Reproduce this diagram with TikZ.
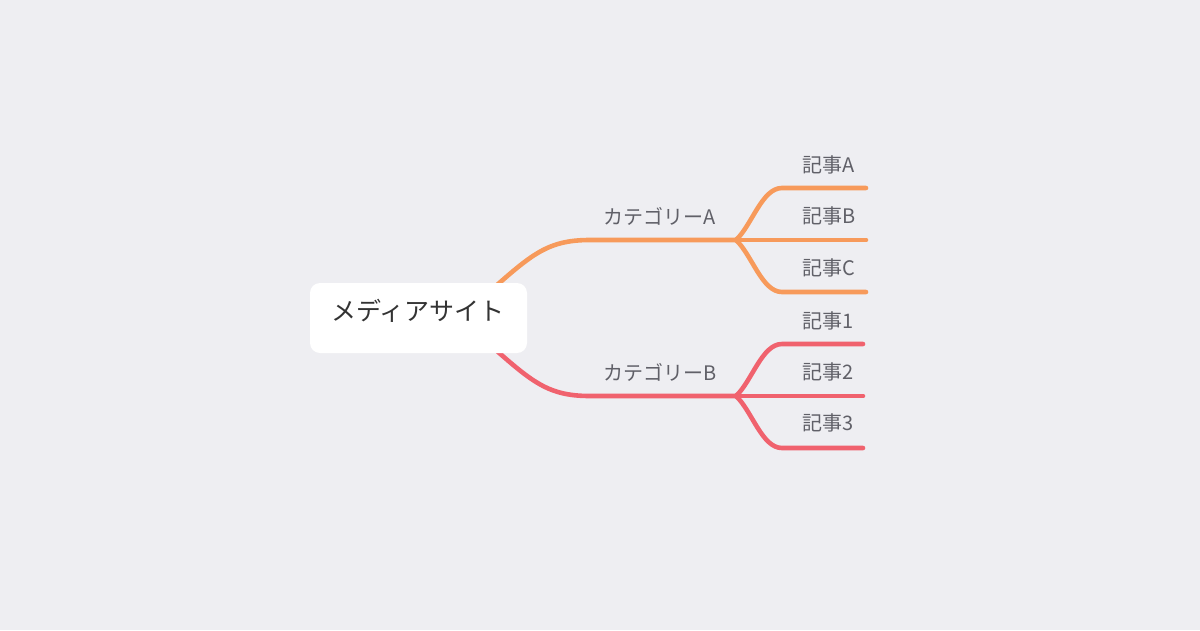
\documentclass[tikz,border=0pt]{standalone}
\usepackage{fontspec}
\setmainfont{Noto Sans CJK JP}
\definecolor{bg}{HTML}{EEEEF2}
\definecolor{orangeL}{HTML}{F79A5B}
\definecolor{redL}{HTML}{F0626E}
\definecolor{txtdark}{HTML}{333333}
\definecolor{txtgray}{HTML}{606068}
\begin{document}
\begin{tikzpicture}[x=1pt,y=-1pt,
  branch/.style={line width=4.6pt,line cap=round,line join=round},
  rootbox/.style={fill=white,rounded corners=10pt,minimum width=217pt,minimum height=70pt,inner sep=0pt},
  roottext/.style={font=\fontsize{25}{28}\selectfont,text=txtdark,inner sep=0pt},
  cattext/.style={font=\fontsize{20}{22}\selectfont,text=txtgray,inner sep=0pt},
  arttext/.style={font=\fontsize{20}{22}\selectfont,text=txtgray,inner sep=0pt}]
\fill[bg] (0,0) rectangle (1200,630);
\useasboundingbox (0,0) rectangle (1200,630);
% coordinates
\coordinate (oS) at (480,300);
\coordinate (rS) at (480,336);
\coordinate (oM) at (590,240);
\coordinate (rM) at (590,396);
\coordinate (oF) at (736,240);
\coordinate (rF) at (736,396);
\coordinate (a1) at (782,188); \coordinate (a1e) at (866,188);
\coordinate (a2e) at (866,240);
\coordinate (a3) at (782,292); \coordinate (a3e) at (866,292);
\coordinate (b1) at (782,344); \coordinate (b1e) at (863,344);
\coordinate (b2e) at (863,396);
\coordinate (b3) at (782,448); \coordinate (b3e) at (863,448);
% orange branch
\draw[branch,orangeL] (oS) .. controls (530,256) and (545,240) .. (oM) -- (oF);
\draw[branch,orangeL] (oF) .. controls (752,225) and (762,188) .. (a1) -- (a1e);
\draw[branch,orangeL] (oF) -- (a2e);
\draw[branch,orangeL] (oF) .. controls (752,255) and (762,292) .. (a3) -- (a3e);
% red branch
\draw[branch,redL] (rS) .. controls (530,380) and (545,396) .. (rM) -- (rF);
\draw[branch,redL] (rF) .. controls (752,381) and (762,344) .. (b1) -- (b1e);
\draw[branch,redL] (rF) -- (b2e);
\draw[branch,redL] (rF) .. controls (752,411) and (762,448) .. (b3) -- (b3e);
% root
\node[rootbox] (root) at (418.5,318) {};
\node[roottext] (rootlabel) at (418,311) {メディアサイト};
% category labels
\node[cattext] (catA) at (660,216) {カテゴリーA};
\node[cattext] (catB) at (660,372) {カテゴリーB};
% article labels
\node[arttext] (artA) at (829,165) {記事A};
\node[arttext] (artB) at (829,216) {記事B};
\node[arttext] (artC) at (829,268) {記事C};
\node[arttext] (art1) at (828,321) {記事1};
\node[arttext] (art2) at (828,372) {記事2};
\node[arttext] (art3) at (828,423) {記事3};
\end{tikzpicture}
\end{document}
